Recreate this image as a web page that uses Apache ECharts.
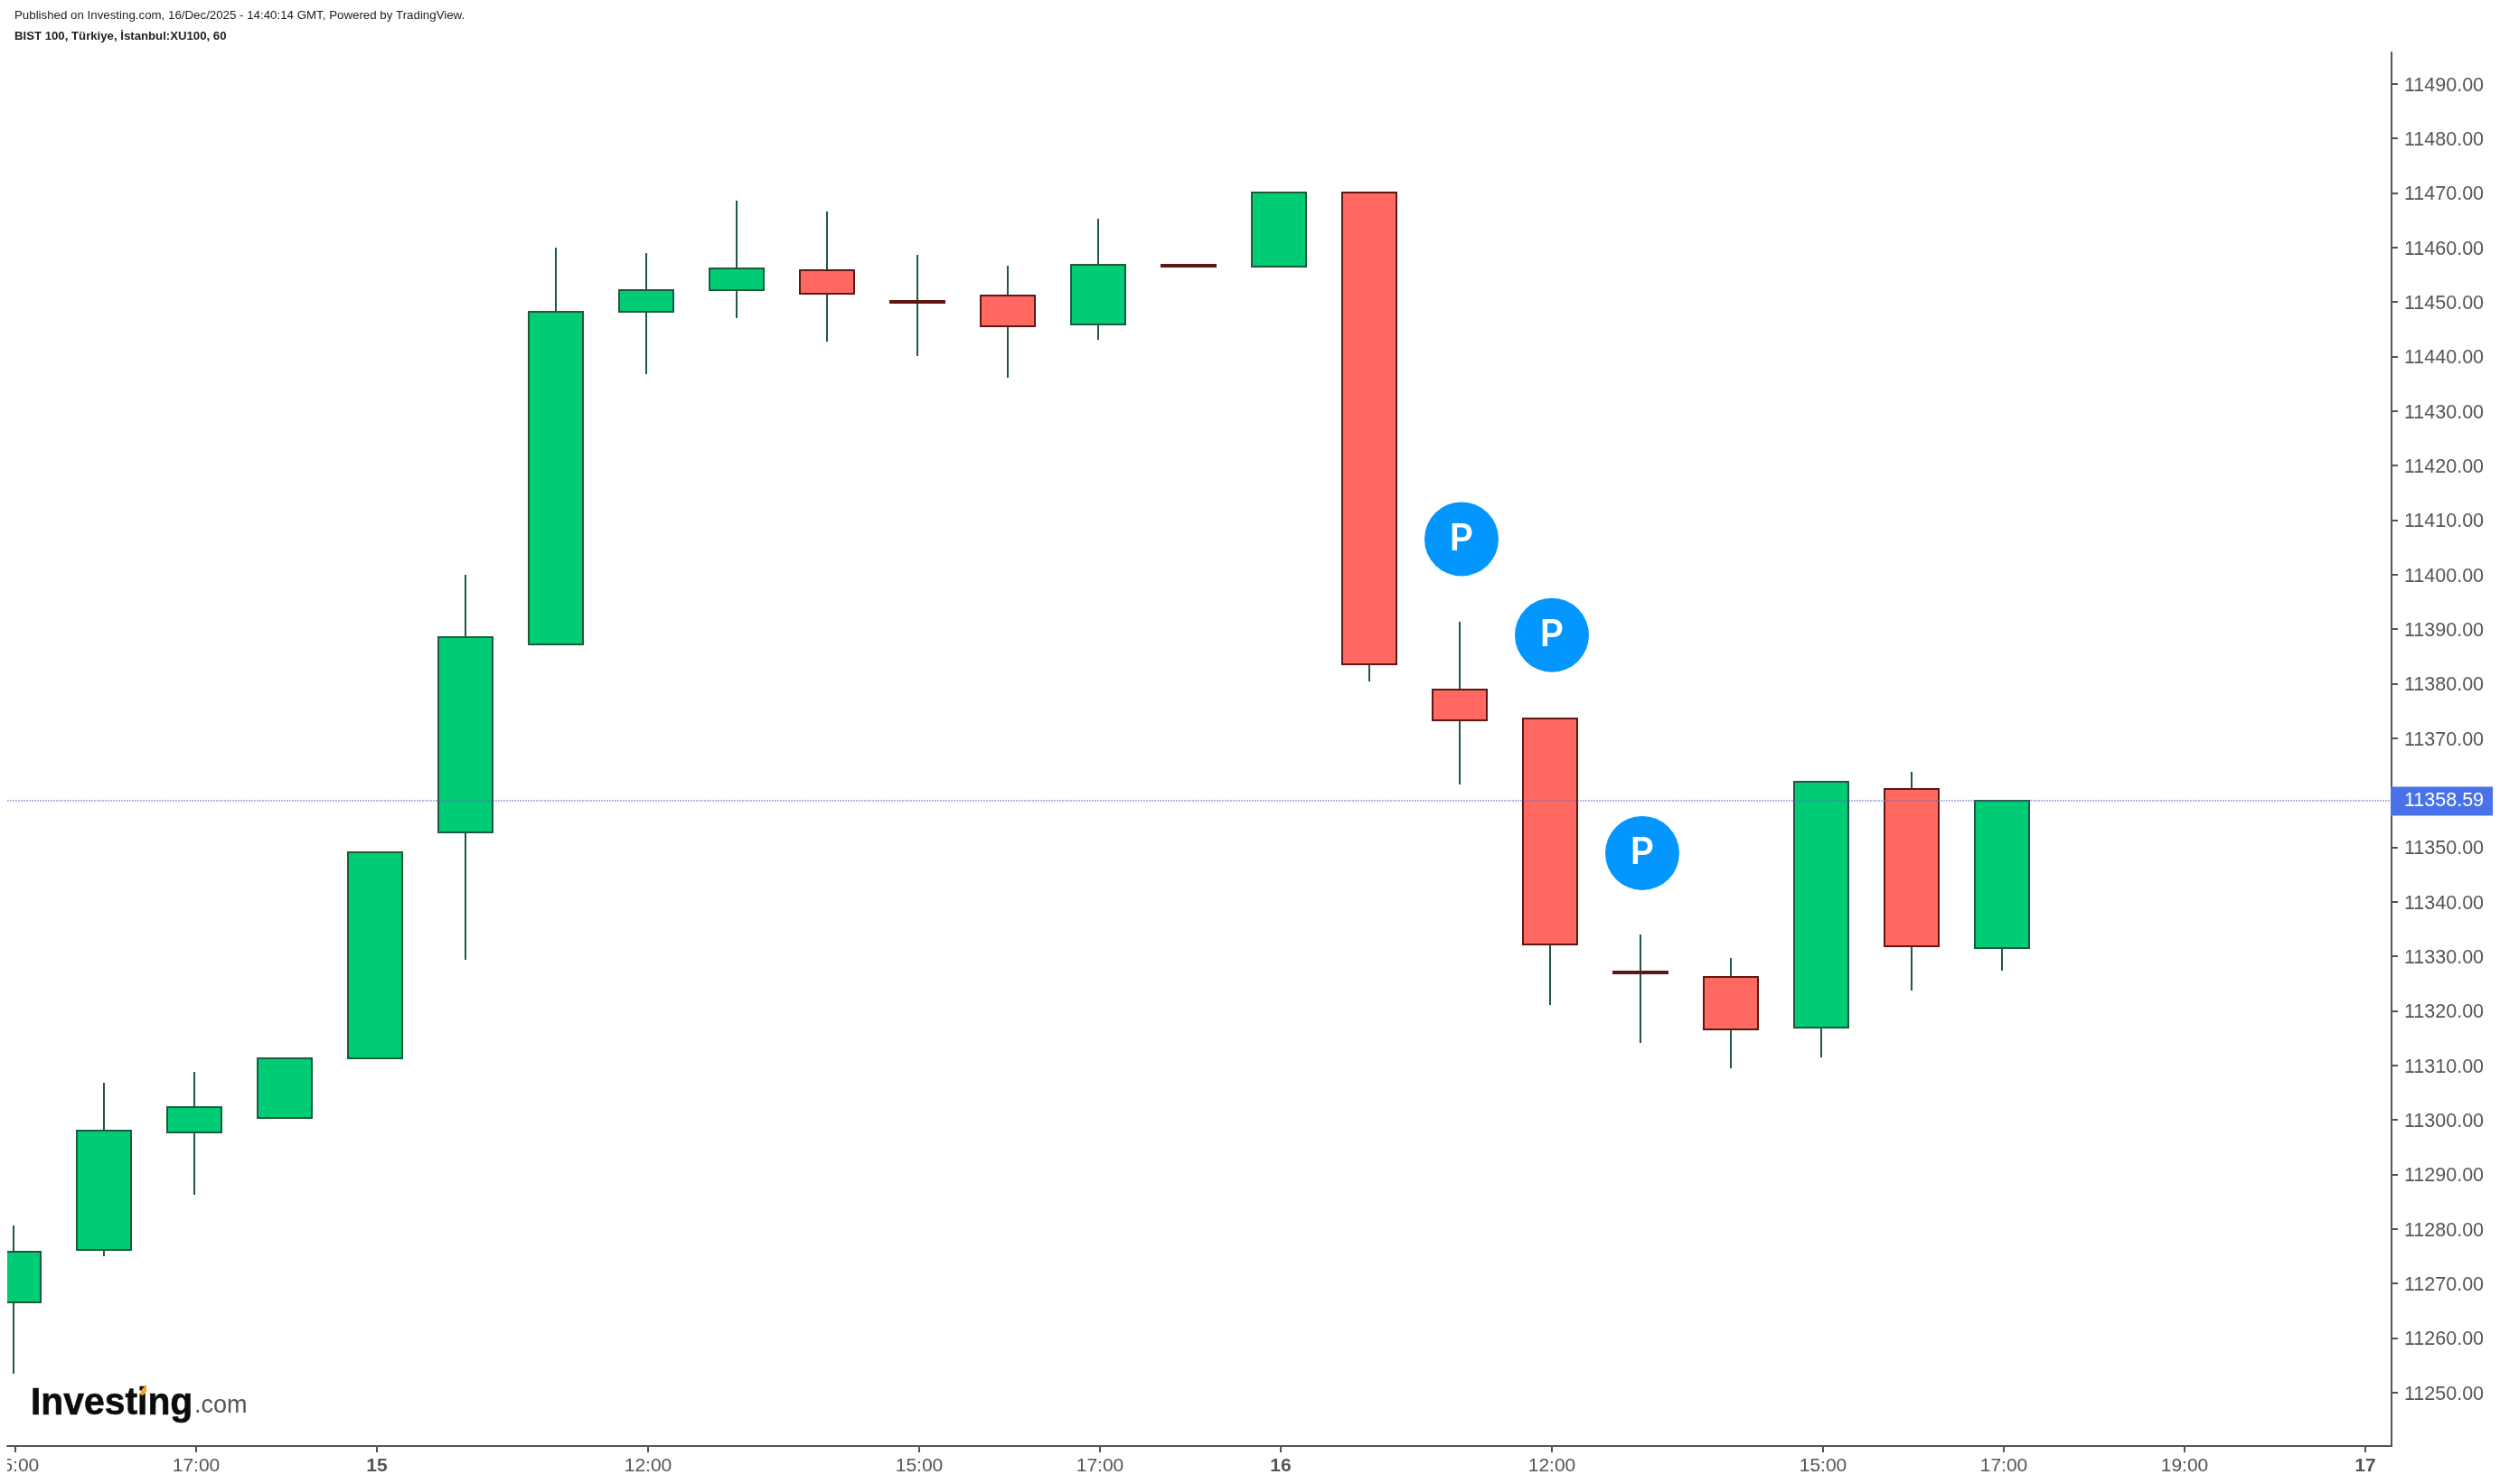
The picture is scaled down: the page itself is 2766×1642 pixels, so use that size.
<!DOCTYPE html>
<html>
<head>
<meta charset="utf-8">
<style>html,body{margin:0;padding:0;background:#fff}#c{width:2766px;height:1642px}</style>
<script src="https://cdn.jsdelivr.net/npm/echarts@6/dist/echarts.min.js"></script>
</head>
<body>
<div id="c"></div>
<script>
const publishedLine = 'Published on Investing.com, 16/Dec/2025 - 14:40:14 GMT, Powered by TradingView.';
const symbolLine = 'BIST 100, Türkiye, İstanbul:XU100, 60';
const lastPrice = 11358.59;
const opens  = [11266.5,11276.1,11297.7,11300.3,11311.3,11352.7,11387.2,11448.2,11452.2,11455.8,11450.15,11451.2,11445.9,11456.75,11456.5,11470.1,11378.9,11373.6,11327.15,11326.2,11316.9,11360.7,11331.5];
const closes = [11275.8,11298.0,11302.3,11311.3,11349.1,11388.5,11448.2,11452.2,11456.1,11451.5,11449.85,11445.5,11456.8,11456.45,11470.1,11383.5,11373.3,11332.2,11326.85,11316.6,11362.0,11331.8,11358.59];
const lows   = [11253.4,11275.0,11286.2,11300.3,11311.3,11329.3,11387.2,11436.7,11447.0,11442.7,11440.1,11436.1,11443.0,11456.45,11456.5,11380.4,11361.5,11321.1,11314.1,11309.5,11311.4,11323.7,11327.4];
const highs  = [11280.6,11306.8,11308.8,11311.3,11349.1,11400.0,11460.0,11459.0,11468.6,11466.6,11458.6,11456.6,11465.3,11456.75,11470.1,11470.1,11391.3,11373.6,11334.0,11329.7,11362.0,11363.8,11358.59];
const timeTicks  = [0.02,2.02,4.02,7.02,10.02,12.02,14.02,17.02,20.02,22.02,24.02,26.02];
const timeLabels = ['15:00','17:00','15','12:00','15:00','17:00','16','12:00','15:00','17:00','19:00','17'];
const dayLabels  = ['15','16','17'];
const priceTicks = [11250,11260,11270,11280,11290,11300,11310,11320,11330,11340,11350,11370,11380,11390,11400,11410,11420,11430,11440,11450,11460,11470,11480,11490];
const pinIndex = [16.02,17.02,18.02];
const pinPrice = [11406.5,11388.9,11348.9];

const GREEN='#00cc75', RED='#ff6961', GREEN_LINE='#1f5a3e', RED_LINE='#5c1814', AXIS='#555555';
const candles = opens.map((o,i)=>[i,o,closes[i],lows[i],highs[i]]);

function drawCandle(params, api){
  const x=api.value(0), o=api.value(1), c=api.value(2), l=api.value(3), h=api.value(4);
  const X=Math.round(api.coord([x,o])[0]);
  const yO=Math.round(api.coord([x,o])[1]), yC=Math.round(api.coord([x,c])[1]);
  const yL=Math.round(api.coord([x,l])[1]), yH=Math.round(api.coord([x,h])[1]);
  const up=c>=o;
  const top=Math.min(yO,yC), bottom=Math.max(yO,yC);
  return {type:'group',children:[
    {type:'rect',shape:{x:X-1,y:yH,width:2,height:yL-yH},style:{fill:GREEN_LINE}},
    {type:'rect',shape:{x:X-30,y:top,width:60,height:bottom-top},
      style:{fill:up?GREEN:RED,stroke:up?GREEN_LINE:RED_LINE,lineWidth:2}}
  ]};
}

const chart = echarts.init(document.getElementById('c'),null,{renderer:'canvas'});
chart.setOption({
  animation:false,
  backgroundColor:'#fff',
  title:[
    {text:publishedLine,left:16,top:11,textStyle:{fontFamily:'Liberation Sans',fontSize:13.3,fontWeight:'normal',color:'#222'},padding:0},
    {text:symbolLine,left:16,top:34,textStyle:{fontFamily:'Liberation Sans',fontSize:13.2,fontWeight:'bold',color:'#222'},padding:0}
  ],
  grid:{left:8,right:120,top:58,bottom:42,outerBoundsMode:'none',containLabel:false},
  xAxis:{
    type:'value',min:-0.07,max:26.31,
    splitLine:{show:false},
    axisLine:{show:true,onZero:false,lineStyle:{color:AXIS,width:2}},
    axisTick:{show:true,length:7,lineStyle:{color:AXIS,width:2},customValues:timeTicks},
    axisLabel:{
      show:true,margin:12,fontFamily:'Liberation Sans',fontSize:21,color:AXIS,hideOverlap:false,
      customValues:timeTicks,
      formatter:function(v){
        const t=timeLabels[timeTicks.indexOf(v)];
        return dayLabels.includes(t)?'{b|'+t+'}':t;
      },
      rich:{b:{fontFamily:'Liberation Sans',fontSize:21,fontWeight:'bold',color:AXIS}}
    }
  },
  yAxis:{
    type:'value',position:'right',min:11240.16,max:11495.76,
    splitLine:{show:false},
    axisLine:{show:true,onZero:false,lineStyle:{color:AXIS,width:2}},
    axisTick:{show:true,length:7,lineStyle:{color:AXIS,width:2},customValues:priceTicks},
    axisLabel:{show:true,margin:14,verticalAlign:'top',lineHeight:4,fontFamily:'Liberation Sans',fontSize:21.5,color:AXIS,
      customValues:priceTicks,formatter:v=>v.toFixed(2)}
  },
  series:[
    {type:'custom',name:'XU100',renderItem:drawCandle,clip:true,data:candles,
      encode:{x:0,y:[1,2,3,4]},
      markLine:{silent:true,symbol:'none',animation:false,z:10,
        lineStyle:{color:'rgba(90,100,190,0.45)',width:2,type:[2,1]},
        label:{show:true,position:'end',distance:-1,offset:[0,1],formatter:()=>lastPrice.toFixed(2),
          fontFamily:'Liberation Sans',fontSize:21.5,color:'#fff',backgroundColor:'#4a72e8',
          padding:[6,10,4,15],lineHeight:22},
        data:[{yAxis:lastPrice}]}},
    {type:'scatter',name:'Pins',symbol:'circle',symbolSize:82,
      data:pinIndex.map((x,i)=>[x,pinPrice[i]]),
      itemStyle:{color:'#0496ff',opacity:1},
      label:{show:true,position:'inside',formatter:'P',color:'#fff',fontFamily:'Inter',fontWeight:600,fontSize:41},
      z:5}
  ],
  graphic:[
    {type:'rect',z:100,shape:{x:0,y:1604,width:8,height:36},style:{fill:'#fff'}},
    {type:'text',z:100,x:34,y:1532,scaleX:0.95,style:{text:'Investing',fontFamily:'Liberation Sans',fontWeight:'bold',fontSize:43,fill:'#0c0c0c',stroke:'#0c0c0c',lineWidth:0.6,textVerticalAlign:'top'}},
    {type:'text',z:100,x:215,y:1542,style:{text:'.com',fontFamily:'Liberation Sans',fontSize:27,fill:'#555',textVerticalAlign:'top'}},
    {type:'polygon',z:101,shape:{points:[[155,1543],[157,1537],[162,1532],[162,1540],[158,1544]]},style:{fill:'#f7a416'}}
  ]
});
</script>
</body>
</html>
